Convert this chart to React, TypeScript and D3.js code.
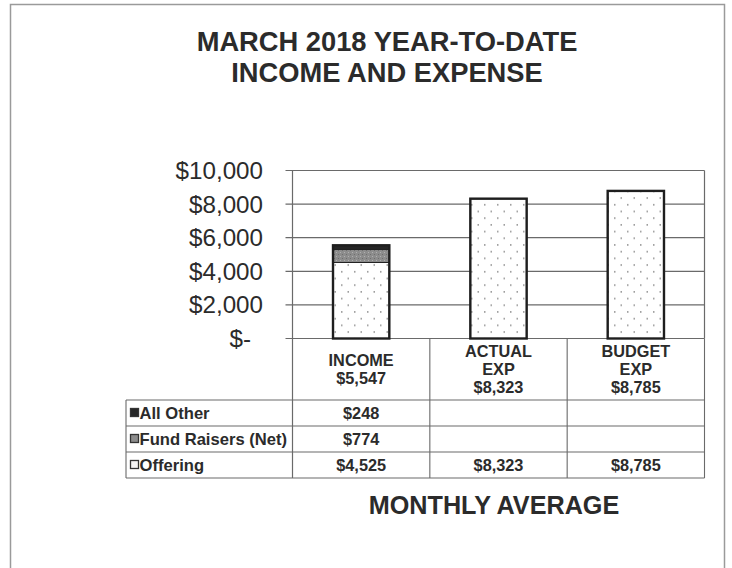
import React from "react";
import * as d3 from "d3";

const categoryLines: string[][] = [["INCOME"], ["ACTUAL", "EXP"], ["BUDGET", "EXP"]];
const categories = ["INCOME", "ACTUAL EXP", "BUDGET EXP"];
const seriesNames = ["All Other", "Fund Raisers (Net)", "Offering"];
const offering = [4525, 8323, 8785];
const fundRaisers = [774, 0, 0];
const allOther = [248, 0, 0];
const fundRaisersShown = [true, false, false];
const allOtherShown = [true, false, false];
const yTicks = [0, 2000, 4000, 6000, 8000, 10000];
const titleLines = ["MARCH 2018 YEAR-TO-DATE", "INCOME AND EXPENSE"];
const footer = "MONTHLY AVERAGE";

const W = 732;
const H = 568;
const plotLeft = 292.5;
const plotRight = 704.5;
const plotTop = 170.5;
const plotBottom = 338.5;
const tableLeft = 126;
const headerBottom = 400;
const rowH = 26;

const FONT = "'Liberation Sans', Arial, Helvetica, sans-serif";
const INK = "#2b2b2b";
const LINE = "#6a6a6a";

export default function App() {
  const x = d3.scaleBand<string>().domain(categories).range([plotLeft, plotRight]).padding(0);
  const y = d3.scaleLinear().domain([0, 10000]).range([plotBottom, plotTop]);
  const barW = x.bandwidth() * 0.41;

  const rows = categories.map((c, i) => ({
    cat: c,
    Offering: offering[i],
    "Fund Raisers (Net)": fundRaisers[i],
    "All Other": allOther[i],
  }));
  const stackKeys = ["Offering", "Fund Raisers (Net)", "All Other"];
  const stacked = d3.stack<any>().keys(stackKeys)(rows);
  const fills: Record<string, string> = {
    Offering: "url(#dots)",
    "Fund Raisers (Net)": "url(#grayspeck)",
    "All Other": "#262626",
  };
  const totals = categories.map((_, i) => offering[i] + fundRaisers[i] + allOther[i]);
  const money = (v: number) => (v === 0 ? "$-" : "$" + d3.format(",")(v));

  const tableRows = [
    { name: seriesNames[0], vals: allOther, shown: allOtherShown, key: "dark" },
    { name: seriesNames[1], vals: fundRaisers, shown: fundRaisersShown, key: "gray" },
    { name: seriesNames[2], vals: offering, shown: [true, true, true], key: "light" },
  ];
  const tableBottom = headerBottom + rowH * 3;

  return (
    <div>
      <style>{`body{margin:0;background:#fff}`}</style>
      <svg width={W} height={H} style={{ display: "block" }} fontFamily={FONT}>
        <defs>
          <pattern id="dots" width={13} height={13.4} patternUnits="userSpaceOnUse">
            <rect width={13} height={13.4} fill="#fff" />
            <rect x={3} y={3} width={1.5} height={1.5} fill="#8e8e8e" />
            <rect x={9.5} y={9.7} width={1.5} height={1.5} fill="#8e8e8e" />
          </pattern>
          <pattern id="grayspeck" width={4} height={4} patternUnits="userSpaceOnUse">
            <rect width={4} height={4} fill="#8c8c8c" />
            <rect x={0} y={0} width={1} height={1} fill="#b0b0b0" />
            <rect x={2} y={2} width={1} height={1} fill="#6e6e6e" />
          </pattern>
        </defs>
        <rect x={0} y={0} width={W} height={H} fill="#fff" />
        {/* outer border */}
        <rect x={10.5} y={4.5} width={714} height={H + 10} fill="none" stroke="#9a9a9a" strokeWidth={1.5} />

        {/* title */}
        {titleLines.map((t, i) => (
          <text key={t} x={387} y={51 + i * 31} textAnchor="middle" fontSize={27.3} fontWeight="bold" fill={INK}>
            {t}
          </text>
        ))}

        {/* gridlines */}
        {yTicks.map((t) => (
          <line key={"g" + t} x1={plotLeft - 7} x2={plotRight} y1={y(t)} y2={y(t)} stroke={LINE} strokeWidth={1.2} />
        ))}
        {/* plot right border */}
        <line x1={plotRight} x2={plotRight} y1={plotTop} y2={plotBottom} stroke={LINE} strokeWidth={1.2} />

        {/* y labels */}
        {yTicks.map((t) => (
          <text key={"l" + t} x={t === 0 ? 251 : 263} y={y(t) + 8.5} textAnchor="end" fontSize={24.2} fill={INK}>
            {money(t)}
          </text>
        ))}

        {/* bars */}
        {stacked.map((s) =>
          s.map((d, i) => {
            const h = y(d[0]) - y(d[1]);
            if (h <= 0) return null;
            const cx = (x(categories[i]) as number) + x.bandwidth() / 2;
            return (
              <rect
                key={s.key + i}
                x={cx - barW / 2}
                y={y(d[1])}
                width={barW}
                height={h}
                fill={fills[s.key]}
                stroke="#222"
                strokeWidth={1}
              />
            );
          })
        )}
        {/* bar outlines */}
        {categories.map((c, i) => {
          const cx = (x(c) as number) + x.bandwidth() / 2;
          return (
            <rect key={"o" + c} x={cx - barW / 2} y={y(totals[i])} width={barW} height={y(0) - y(totals[i])} fill="none" stroke="#1e1e1e" strokeWidth={2.4} />
          );
        })}

        {/* axis line extends through the table */}
        <line x1={plotLeft} x2={plotLeft} y1={plotTop} y2={tableBottom} stroke={LINE} strokeWidth={1.2} />
        {/* category column dividers */}
        {categories.map((c, i) => {
          const xr = (x(c) as number) + x.bandwidth();
          return <line key={"v" + c} x1={xr} x2={xr} y1={plotBottom} y2={tableBottom} stroke={LINE} strokeWidth={1.1} />;
        })}
        {/* table horizontals */}
        {[0, 1, 2, 3].map((r) => (
          <line key={"h" + r} x1={tableLeft} x2={plotRight} y1={headerBottom + r * rowH} y2={headerBottom + r * rowH} stroke={LINE} strokeWidth={1.1} />
        ))}
        <line x1={tableLeft} x2={tableLeft} y1={headerBottom} y2={tableBottom} stroke={LINE} strokeWidth={1.1} />

        {/* header labels */}
        {categories.map((c, i) => {
          const cx = (x(c) as number) + x.bandwidth() / 2;
          const lines = [...categoryLines[i], money(totals[i])];
          const lh = 18.2;
          const mid = 375;
          const start = mid - ((lines.length - 1) * lh) / 2;
          return lines.map((t, j) => (
            <text key={c + j} x={cx} y={start + j * lh} textAnchor="middle" fontSize={16.3} fontWeight="bold" fill={INK}>
              {t}
            </text>
          ));
        })}

        {/* table rows */}
        {tableRows.map((r, ri) => {
          const yb = headerBottom + ri * rowH;
          const base = yb + 18.5;
          const keyFill = r.key === "dark" ? "#262626" : r.key === "gray" ? "#8c8c8c" : "#f4f4f4";
          return (
            <g key={r.name}>
              <rect x={130.5} y={yb + 8.5} width={8} height={8} fill={keyFill} stroke="#333" strokeWidth={1.3} />
              <text x={139.5} y={base} fontSize={16.6} fontWeight="bold" fill={INK}>
                {r.name}
              </text>
              {categories.map((c, i) =>
                r.shown[i] ? (
                  <text key={c} x={(x(c) as number) + x.bandwidth() / 2} y={base} textAnchor="middle" fontSize={16.3} fontWeight="bold" fill={INK}>
                    {money(r.vals[i])}
                  </text>
                ) : null
              )}
            </g>
          );
        })}

        {/* footer */}
        <text x={494} y={514} textAnchor="middle" fontSize={25.2} fontWeight="bold" fill={INK}>
          {footer}
        </text>
      </svg>
    </div>
  );
}
